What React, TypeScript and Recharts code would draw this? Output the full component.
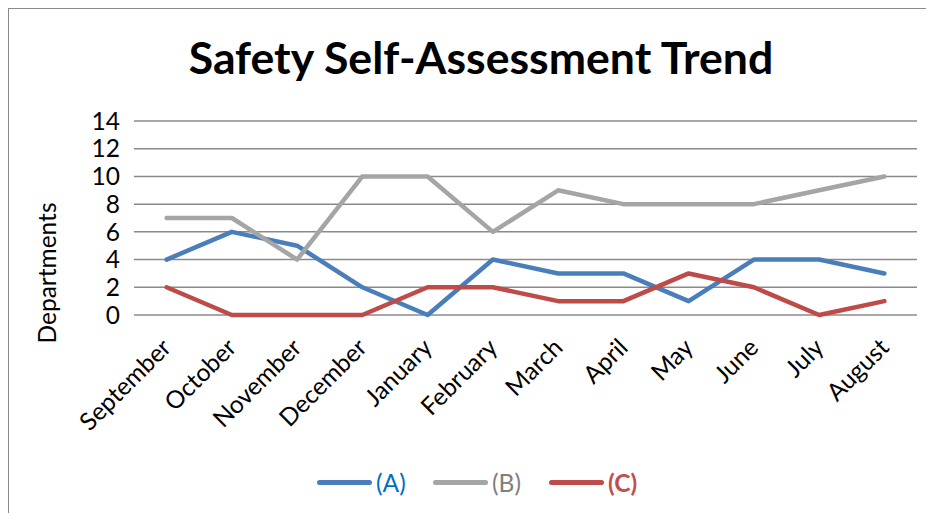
import React from 'react';
import { LineChart, Line, XAxis, YAxis, CartesianGrid, Legend } from 'recharts';

const months = ['September', 'October', 'November', 'December', 'January', 'February', 'March', 'April', 'May', 'June', 'July', 'August'];
const seriesA = [4, 6, 5, 2, 0, 4, 3, 3, 1, 4, 4, 3];
const seriesB = [7, 7, 4, 10, 10, 6, 9, 8, 8, 8, 9, 10];
const seriesC = [2, 0, 0, 0, 2, 2, 1, 1, 3, 2, 0, 1];
const yTicks = [0, 2, 4, 6, 8, 10, 12, 14];
const seriesNames = ['(A)', '(B)', '(C)'];
const lineColors = ['#4A7EBB', '#A5A5A5', '#BE4B48'];
const legendTextColors = ['#0070C0', '#7F7F7F', '#C0504D'];
const legendTextWeights = [400, 400, 700];

const data = months.map((m, i) => ({ month: m, A: seriesA[i], B: seriesB[i], C: seriesC[i] }));

const FONT = 'Lato, "Open Sans", sans-serif';
const FS = 24.5;

const XTick = (props: any) => {
  const { x, y, payload } = props;
  const ax = x;
  const ay = y + 28;
  return (
    <text x={ax} y={ay} dy="0.35em" textAnchor="end" transform={`rotate(-45, ${ax}, ${ay})`}
      fontFamily={FONT} fontSize={FS} fill="#000">{payload.value}</text>
  );
};

const YLabel = () => (
  <text x={38} y={264} transform="rotate(-90, 38, 264)" textAnchor="middle" dy="0.35em"
    fontFamily={FONT} fontSize={FS} fill="#000">Departments</text>
);

const renderLegend = (props: any) => {
  const payload = props.payload || [];
  return (
    <div style={{ position: 'relative', width: 925, height: 40 }}>
      {payload.map((entry: any, i: number) => (
        <div key={i} style={{ position: 'absolute', left: 308 + i * 116, top: 0, height: 40, display: 'flex', alignItems: 'center' }}>
          <div style={{ width: 55, height: 5, borderRadius: 3, background: entry.color }} />
          <span style={{ marginLeft: 4, fontFamily: FONT, fontSize: FS, color: legendTextColors[i], fontWeight: legendTextWeights[i] }}>{entry.value}</span>
        </div>
      ))}
    </div>
  );
};

export default function App() {
  return (
    <div style={{ width: 926, height: 505, borderTop: '1px solid #8a8a8a', borderLeft: '1px solid #8a8a8a', background: '#fff' }}>
      <LineChart width={925} height={504} data={data} margin={{ top: 112, right: 17, bottom: 0, left: 0 }}>
        <text x={472} y={65} textAnchor="middle" fontFamily={FONT} fontWeight={700} fontSize={44.6} fill="#000">Safety Self-Assessment Trend</text>
        <CartesianGrid vertical={false} stroke="#8a8a8a" strokeWidth={1.5} />
        <XAxis dataKey="month" axisLine={false} tickLine={false} tickSize={0} tickMargin={0} height={198}
          padding={{ left: 32.6, right: 32.6 }} tick={<XTick />} interval={0} />
        <YAxis domain={[0, 14]} ticks={yTicks} interval={0} axisLine={false} tickLine={false} tickSize={0} tickMargin={14} width={125}
          tick={{ fontFamily: FONT, fontSize: FS, fill: '#000' }} label={<YLabel />} />
        <Legend layout="horizontal" verticalAlign="middle" align="center" content={renderLegend}
          wrapperStyle={{ top: 453, left: 0, width: 925, height: 40 }} />
        <Line dataKey="A" name={seriesNames[0]} stroke={lineColors[0]} strokeWidth={4.5} dot={false} activeDot={false}
          strokeLinecap="round" strokeLinejoin="round" isAnimationActive={false} />
        <Line dataKey="B" name={seriesNames[1]} stroke={lineColors[1]} strokeWidth={4.5} dot={false} activeDot={false}
          strokeLinecap="round" strokeLinejoin="round" isAnimationActive={false} />
        <Line dataKey="C" name={seriesNames[2]} stroke={lineColors[2]} strokeWidth={4.5} dot={false} activeDot={false}
          strokeLinecap="round" strokeLinejoin="round" isAnimationActive={false} />
      </LineChart>
    </div>
  );
}
